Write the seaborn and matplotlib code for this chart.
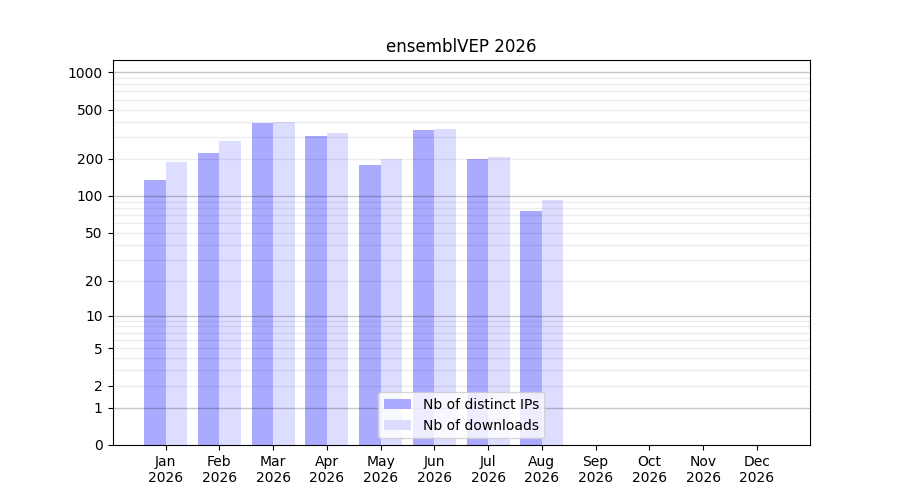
import numpy as np
import pandas as pd
import matplotlib
matplotlib.use("Agg")
import matplotlib.pyplot as plt
import seaborn as sns

months = ["Jan", "Feb", "Mar", "Apr", "May", "Jun", "Jul", "Aug", "Sep", "Oct", "Nov", "Dec"]
year = "2026"
distinct_ips = [134, 225, 387, 304, 180, 340, 201, 76, 0, 0, 0, 0]
downloads = [190, 277, 394, 321, 201, 346, 209, 92, 0, 0, 0, 0]
series_names = ["Nb of distinct IPs", "Nb of downloads"]
series_colors = ["#aaaaff", "#ddddff"]
ytick_values = [0, 1, 2, 5, 10, 20, 50, 100, 200, 500, 1000]
major_grid = [1, 10, 100, 1000]
minor_grid = [m * d for d in (1, 10, 100) for m in range(2, 10)]
title = "ensemblVEP 2026"

labels = [f"{m}\n{year}" for m in months]
df = pd.DataFrame({
    "month": labels * 2,
    "value": distinct_ips + downloads,
    "series": [series_names[0]] * len(months) + [series_names[1]] * len(months),
})

fig, ax = plt.subplots(figsize=(9, 5), dpi=100)
sns.barplot(data=df, x="month", y="value", hue="series", order=labels,
            hue_order=series_names, palette=series_colors, saturation=1,
            linewidth=0, width=0.8, ax=ax, zorder=1)


def fwd(x):
    return np.log10(np.clip(x, 0, None) + 1)


def inv(y):
    return 10 ** y - 1


ax.set_yscale("function", functions=(fwd, inv))
ax.set_ylim(0, 1255)
ax.set_xlim(-0.99, 11.99)
ax.set_yticks(ytick_values)
ax.set_yticklabels([str(v) for v in ytick_values])
ax.yaxis.set_minor_locator(matplotlib.ticker.NullLocator())
ax.grid(False)
for v in minor_grid:
    ax.axhline(v, color="black", alpha=0.07, linewidth=1, zorder=2)
for v in major_grid:
    ax.axhline(v, color="black", alpha=0.22, linewidth=1, zorder=2)

ax.set_xlabel("")
ax.set_ylabel("")
ax.set_title(title)
handles, leg_labels = ax.get_legend_handles_labels()
ax.legend(handles, leg_labels, loc="lower center")

fig.savefig("out.png", dpi=100)
